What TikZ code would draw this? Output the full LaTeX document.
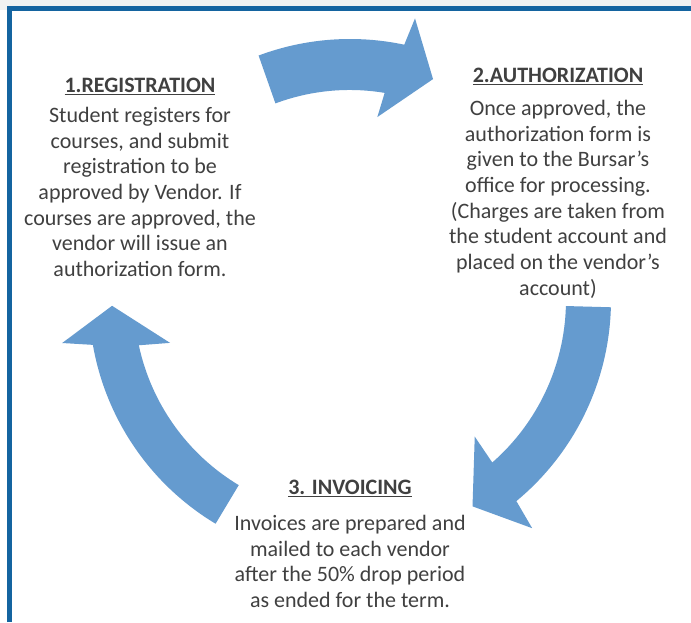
\documentclass[tikz,border=0pt]{standalone}
\usepackage{fontspec}
\setmainfont{Carlito}

\definecolor{ringblue}{RGB}{101,155,207}
\definecolor{frameblue}{RGB}{20,100,160}
\definecolor{textgray}{RGB}{64,64,64}
\definecolor{stripgray}{RGB}{240,242,242}

\begin{document}
\begin{tikzpicture}[x=1pt, y=1pt,
  ringarrow/.style={fill=ringblue},
  stepnode/.style={align=center, inner sep=0pt, anchor=north, text=textgray, font=\fontsize{22}{25.7}\selectfont}]
\useasboundingbox (0,0) rectangle (691,622);
\fill[white] (0,0) rectangle (691,622);
\fill[stripgray] (0,612) rectangle (691,622);

% Рамка
\draw[frameblue, line width=5pt] (9.5,0) -- (9.5,613.5) -- (691,613.5);

% Центр круга
\coordinate (ring) at (350,322);

% Стрелки по кругу
\begin{scope}[shift={(ring)}]
\fill[ringarrow] (110.5:261pt) arc[start angle=110.5, end angle=78, radius=261pt] -- (77:289pt) -- (69.4:236pt) -- (81.5:185pt) -- (80.5:210pt) arc[start angle=80.5, end angle=110.5, radius=212pt] -- cycle;
\fill[ringarrow] (-1.6:261pt) arc[start angle=-1.6, end angle=-50.4, radius=261pt] -- (-51.4:292pt) -- (-59.3:240pt) -- (-47.6:185pt) -- (-48.8:216pt) arc[start angle=-48.8, end angle=-1.6, radius=216pt] -- cycle;
\fill[ringarrow] (239:261pt) arc[start angle=239, end angle=189.9, radius=261pt] -- (188.5:291pt) -- (181.4:238pt) -- (193.4:185pt) -- (192.1:216pt) arc[start angle=192.1, end angle=239, radius=216pt] -- cycle;
\end{scope}

% Шаги
\node (reg) [stepnode] at (140,544) {\underline{\textbf{1.REGISTRATION}}\\[4pt]
  Student registers for\\ courses, and submit\\ registration to be\\ approved by Vendor. If\\
  courses are approved, the\\ vendor will issue an\\ authorization form.};
\node (auth) [stepnode] at (558,554) {\underline{\textbf{2.AUTHORIZATION}}\\[7pt]
  Once approved, the\\ authorization form is\\ given to the Bursar’s\\ office for processing.\\
  (Charges are taken from\\ the student account and\\ placed on the vendor’s\\ account)};
\node (inv) [stepnode] at (350,142) {\underline{\textbf{3. INVOICING}}\\[10pt]
  Invoices are prepared and\\ mailed to each vendor\\ after the 50\% drop period\\ as ended for the term.};

\end{tikzpicture}
\end{document}
